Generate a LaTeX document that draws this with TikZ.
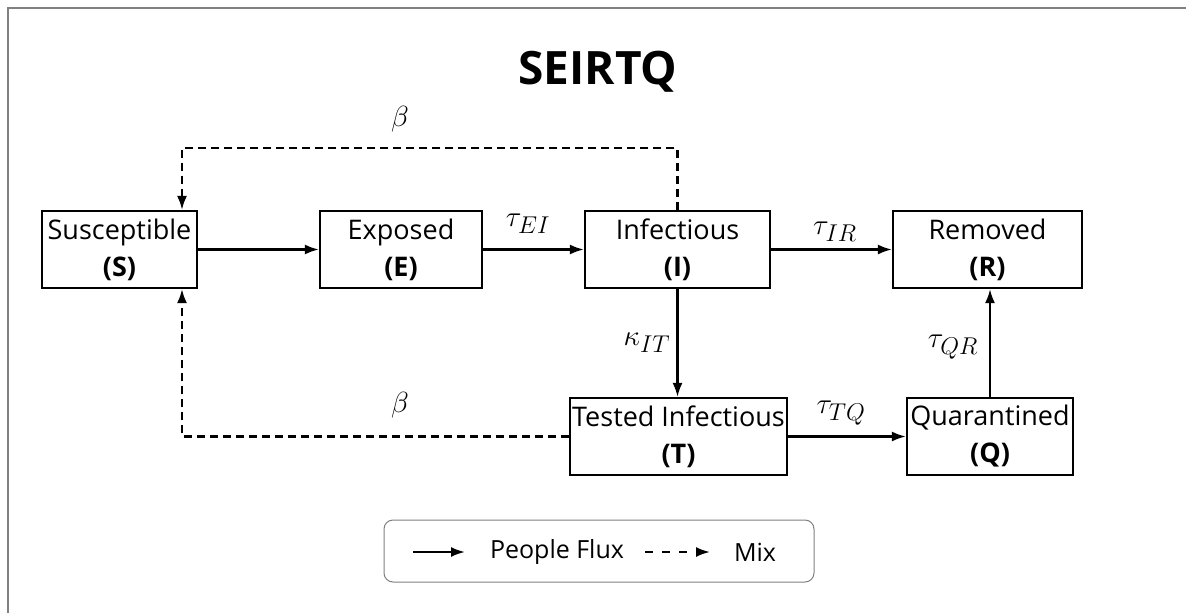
\documentclass[tikz,border=0pt]{standalone}
\usepackage{amsmath}
\usepackage{graphicx}
\usepackage{fontspec}
\setmainfont{Open Sans}
\usetikzlibrary{positioning, calc}
\usetikzlibrary{arrows.meta}
\newcommand{\ratelabel}[1]{\scalebox{1.17}{$#1$}}

\begin{document}
\begin{tikzpicture}[x=1pt, y=-1pt,
	                    box/.style={draw,
	                                line width=2.2pt,
	                                align=center,
	                                inner sep=0pt,
	                                minimum height=77pt,
	                                font=\fontsize{27}{37}\selectfont},
	                    flow/.style={-{Latex[length=14pt,width=10pt]},
	                                 draw,
	                                 line width=2.2pt},
	                    mix/.style={flow,
	                                dash pattern=on 8pt off 5pt},
	                    rate/.style={font=\fontsize{24.88}{28}\selectfont}]
	\useasboundingbox (0,0) rectangle (1186,613);
	\draw[gray, line width=2pt] (8,613) -- (8,8) -- (1186,8);

	\node [font=\fontsize{46}{50}\selectfont\bfseries] (Title) at (598,72) {SEIRTQ};

	\node [box, minimum width=155pt] (S) at (119.5,249.5) {Susceptible\\\textbf{(S)}};
	\node [box, minimum width=162pt] (E) at (401,249.5) {Exposed\\\textbf{(E)}};
	\node [box, minimum width=185pt] (I) at (677.5,249.5) {Infectious\\\textbf{(I)}};
	\node [box, minimum width=189pt] (R) at (987.5,249.5) {Removed\\\textbf{(R)}};
	\node [box, minimum width=217pt] (T) at (678.5,436.5) {Tested Infectious\\\textbf{(T)}};
	\node [box, minimum width=166pt] (Q) at (990,436.5) {Quarantined\\\textbf{(Q)}};

	\coordinate (corner) at (182,148);

	\draw[flow] (S) -- (E);
	\draw[flow] (E) -- (I);
	\draw[flow] (I) -- (R);
	\draw[flow] (I) -- (I |- T.north);
	\draw[flow] (T) -- (Q);
	\draw[flow] (Q.north) -- (Q.north |- R.south);
	\draw[mix] (I.north) |- (corner) -- (S.north -| corner);
	\draw[mix] (T.west) -| (S.south -| corner);

	\node [rate] (BetaTop) at (400,119) {\ratelabel{\beta}};
	\node [rate] (BetaBot) at (400,405) {\ratelabel{\beta}};
	\node [rate] (TauEI) at (528,224) {\ratelabel{\tau_{EI}}};
	\node [rate] (TauIR) at (835,232) {\ratelabel{\tau_{IR}}};
	\node [rate] (KappaIT) at (647,343) {\ratelabel{\kappa_{IT}}};
	\node [rate] (TauQR) at (953,347) {\ratelabel{\tau_{QR}}};
	\node [rate] (TauTQ) at (841,413) {\ratelabel{\tau_{TQ}}};

	% legend
	\node [draw=gray, line width=1pt, rounded corners=9pt, minimum width=430pt, minimum height=62pt] (Legend) at (599,551) {};
	\coordinate (FluxA) at (413,552);
	\coordinate (FluxB) at (465,552);
	\coordinate (MixA) at (645,552);
	\coordinate (MixB) at (710,552);
	\node [font=\fontsize{25}{28}\selectfont] (Flux) at (557,552) {People Flux};
	\node [font=\fontsize{25}{28}\selectfont] (Mix) at (755,552) {Mix};
	\draw[flow] (FluxA) -- (FluxB);
	\draw[mix, dash pattern=on 8pt off 9pt] (MixA) -- (MixB);
\end{tikzpicture}
\end{document}
